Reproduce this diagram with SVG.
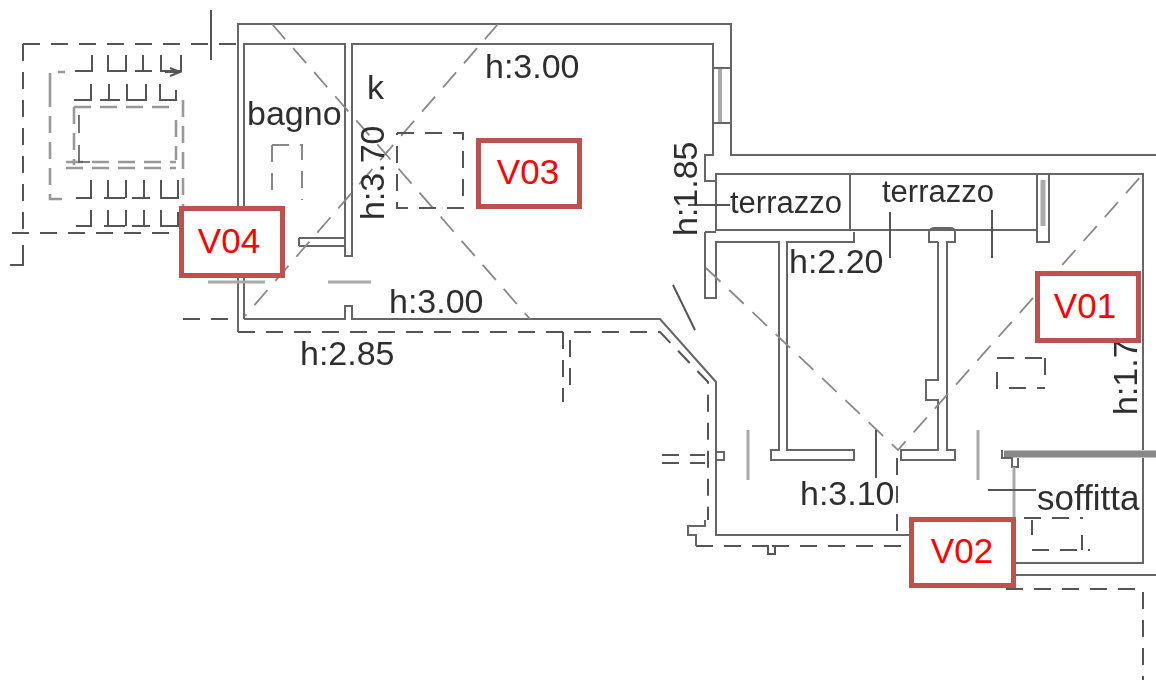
<svg xmlns="http://www.w3.org/2000/svg" width="1156" height="691" viewBox="0 0 1156 691">
<style>
.w{fill:none;stroke:#666;stroke-width:2}
.d{fill:none;stroke:#555;stroke-width:2;stroke-dasharray:17 11}
.dd{fill:none;stroke:#888;stroke-width:1.8;stroke-dasharray:20 12}
.g{fill:none;stroke:#999;stroke-width:2.6;stroke-dasharray:17 9}
.t{fill:none;stroke:#555;stroke-width:2}
.lg{fill:none;stroke:#aaa;stroke-width:3}
.tx{font-family:"Liberation Sans",Arial,sans-serif;font-size:34px;fill:#2e2e2e}
.lb rect{fill:#fff;stroke:#c0504d;stroke-width:5}
.lb text{font-family:"Liberation Sans",Arial,sans-serif;font-size:35px;fill:#f00;text-anchor:middle}
</style>
<defs><filter id="b" x="-2%" y="-2%" width="104%" height="104%"><feGaussianBlur stdDeviation="0.6"/></filter></defs>
<rect width="1156" height="691" fill="#fff"/>
<g id="plan" filter="url(#b)">
<g id="walls">
<path class="w" d="M238 332V24H731V155H1156M244 319V44H345V256H352V44H713V155H705V181H716M244 319H345V306H352V319H660L716 382V535H910"/>
<path class="w" d="M713 68H731M713 123H731"/>
<path class="lg" style="stroke-width:4" d="M720 69V122"/>
<path class="w" d="M716 174H1037V230H716ZM850 174V230M1037 174H1049V242H1037V230M1049 174H1143V450"/>
<path class="lg" style="stroke-width:5" d="M1043 180V226"/>
<path class="w" d="M705 232H716M705 232V298H716V242H779V450H771V460H854V450H787V242H854V232"/>
<path class="w" d="M938 242H929V232Q930 228 935 228H950Q955 228 955 232V242H947V450H955V460H901V450H938V400H926V380H938V242"/>
<path class="w" d="M299 238H345M299 246H345M299 238V246"/>
<path class="w" d="M716 452H724V460H716"/>
<path d="M1004 454H1156" stroke="#888" stroke-width="7" fill="none"/>
<path class="w" d="M1002 450V458H1012V467H1018V458M1143 458V563H1016M1016 575H1156"/>
<path class="lg" d="M1014 467V520"/>
<path class="lg" d="M208 282H265M328 282H371"/>
</g>
<g id="dashed">
<path class="dd" d="M272 24L530 319M498 24L245 316"/>
<path class="dd" d="M706 268L898 450L1143 174"/>
<path class="d" d="M238 332H660L708 382V520M563 332V402M570 340V392M897 458V535M1006 589H1143V680"/>
<path class="d" d="M183 319H232"/>
<path class="d" d="M23 44H238M23 44V232M12 233H180"/>
<path class="t" d="M23 245V265H10"/>
<path class="t" d="M211 10V60"/>
<path class="g" d="M50 90V72H65M50 90V199H65M183 100V232"/>
<path class="g" d="M74 107H176M176 120V160M74 107V165M66 162H176M66 168H176"/>
<path class="t" style="stroke-width:1.6" d="M79 115V133M79 145V162H90"/>
<path class="d" d="M397 133H463V208H397V133"/>
<path class="d" style="stroke:#888" d="M272 145H302V200M272 145V195"/>
<path class="d" d="M997 358H1052M1045 358V378M997 372V388H1045"/>
<path class="d" d="M1024 518H1083M1032 520V535M1032 550H1090M1082 535V550"/>
<path class="d" d="M662 455H705M662 463H705"/>
<path class="w" d="M705 520V526H688V535H696V546"/>
<path class="d" d="M696 546H764M772 546H910"/>
<path class="t" d="M764 546H768V554H775V546H780"/>
</g>
<g id="stair">
<path class="t" d="M75 71H92V55M108 55V71H127M126 55V71M135 71H152M143 55V71M161 55V71H181V55M165 72H178M170 68L180 72L170 76"/>
<path class="t" d="M74 100H91V84M100 100H120M109 84V100M127 84V100H146V84M160 84V100H176V90"/>
<path class="t" d="M76 198H91V180M104 198H125M108 180V198M126 180V198M132 198H150M144 180V198M161 180V198H178V180"/>
<path class="t" d="M76 226H91V210M104 226H125M108 210V226M126 210V226M132 226H150M144 210V226M161 210V226H178V212"/>
</g>
<g id="ticks">
<path class="t" d="M673 285L695 330M890 212V258M992 210V258M876 430V478M688 205H730M988 490H1036"/>
<path class="lg" d="M748 430V480M978 430V480"/>
</g>
<g id="texts">
<text class="tx" x="485" y="78">h:3.00</text>
<text class="tx" x="367" y="99">k</text>
<text class="tx" x="247" y="125">bagno</text>
<text class="tx" transform="translate(384 220) rotate(-90)">h:3.70</text>
<text class="tx" transform="translate(697 236) rotate(-90)">h:1.85</text>
<text class="tx" x="730" y="213" style="font-size:31px">terrazzo</text>
<text class="tx" x="882" y="202" style="font-size:31px">terrazzo</text>
<text class="tx" x="789" y="273">h:2.20</text>
<text class="tx" x="389" y="313">h:3.00</text>
<text class="tx" x="300" y="365">h:2.85</text>
<text class="tx" x="800" y="505">h:3.10</text>
<text class="tx" x="1037" y="510" style="font-size:35px">soffitta</text>
<text class="tx" transform="translate(1137 415) rotate(-90)">h:1.7</text>
</g>
</g>
<g id="V03" class="lb"><rect x="478.500" y="140.500" width="101" height="66"/><text x="528" y="184">V03</text></g>
<g id="V04" class="lb"><rect x="181.500" y="208.500" width="101" height="67"/><text x="229" y="253">V04</text></g>
<g id="V01" class="lb"><rect x="1037.500" y="273.500" width="101" height="67"/><text x="1085" y="318">V01</text></g>
<g id="V02" class="lb"><rect x="911.500" y="519.500" width="102" height="66"/><text x="962" y="563">V02</text></g>
</svg>
